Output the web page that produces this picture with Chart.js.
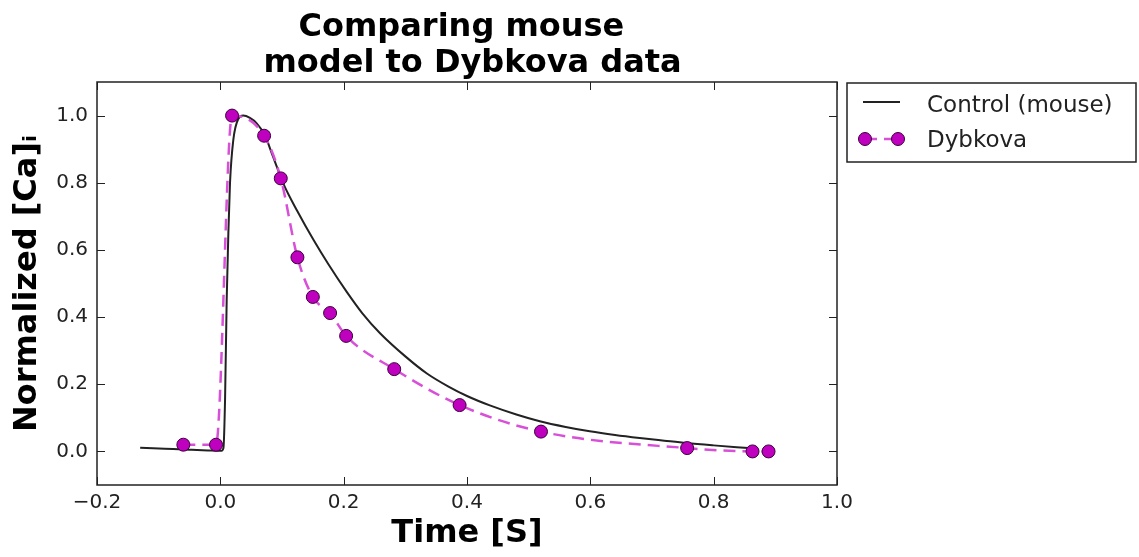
<!DOCTYPE html>
<html>
<head>
<meta charset="utf-8">
<title>Comparing mouse model to Dybkova data</title>
<script src="https://cdn.jsdelivr.net/npm/chart.js@4/dist/chart.umd.min.js"></script>
<style>
    html, body { margin: 0; padding: 0; background: #fff; }
    canvas { display: block; }
</style>
</head>
<body>
<canvas id="caChart" width="1139" height="557"></canvas>
<script>
// model trace
const controlTime = [-0.13, -0.09, -0.05, -0.02, 0.002, 0.005, 0.0076, 0.0103, 0.013, 0.0157, 0.021, 0.029, 0.037, 0.048, 0.059, 0.072, 0.085, 0.102, 0.125, 0.151, 0.175, 0.205, 0.23, 0.259, 0.30, 0.335, 0.37, 0.40, 0.437, 0.48, 0.518, 0.56, 0.599, 0.64, 0.68, 0.72, 0.756, 0.80, 0.856];
const controlCa = [0.011, 0.008, 0.005, 0.003, 0.002, 0.01, 0.15, 0.45, 0.65, 0.80, 0.927, 0.99, 1.0, 0.993, 0.977, 0.942, 0.88, 0.798, 0.715, 0.630, 0.558, 0.475, 0.412, 0.352, 0.283, 0.232, 0.193, 0.165, 0.137, 0.110, 0.090, 0.073, 0.060, 0.049, 0.040, 0.032, 0.025, 0.018, 0.010];

// Dybkova measurements
const dybkovaTime = [-0.06, -0.007, 0.019, 0.071, 0.098, 0.125, 0.150, 0.178, 0.204, 0.282, 0.388, 0.520, 0.757, 0.863, 0.889];
const dybkovaCa = [0.02, 0.02, 1.0, 0.94, 0.813, 0.578, 0.46, 0.412, 0.344, 0.245, 0.138, 0.059, 0.01, 0.0, 0.0];

const xTicks = [-0.2, 0.0, 0.2, 0.4, 0.6, 0.8, 1.0];
const yTicks = [0.0, 0.2, 0.4, 0.6, 0.8, 1.0];

const titleLines = ["Comparing mouse ", " model to Dybkova data"];
const FONT = '"DejaVu Sans", "Liberation Sans", sans-serif';
const INK = "#222";

function fmtTick(v) {
    const s = Math.abs(v).toFixed(1);
    return v < -1e-9 ? "\u2212" + s : s;
}

function toPoints(xs, ys) {
    return xs.map((x, i) => ({ x: x, y: ys[i] }));
}

// matplotlib-ish frame, inward ticks, title and legend
const framePlugin = {
    id: "framePlugin",
    afterDraw(chart) {
        const ctx = chart.ctx;
        const a = chart.chartArea;
        const xs = chart.scales.x;
        const ys = chart.scales.y;
        const tickLen = 8;

        ctx.save();
        ctx.strokeStyle = INK;
        ctx.lineWidth = 1;
        ctx.beginPath();
        xs.ticks.forEach((t) => {
            const px = Math.round(xs.getPixelForValue(t.value)) + 0.5;
            ctx.moveTo(px, a.bottom);
            ctx.lineTo(px, a.bottom - tickLen);
            ctx.moveTo(px, a.top);
            ctx.lineTo(px, a.top + tickLen);
        });
        ys.ticks.forEach((t) => {
            const py = Math.round(ys.getPixelForValue(t.value)) + 0.5;
            ctx.moveTo(a.left, py);
            ctx.lineTo(a.left + tickLen, py);
            ctx.moveTo(a.right, py);
            ctx.lineTo(a.right - tickLen, py);
        });
        ctx.stroke();

        ctx.lineWidth = 1.5;
        ctx.strokeRect(a.left, a.top, a.right - a.left, a.bottom - a.top);

        // title
        const cx = (a.left + a.right) / 2;
        ctx.fillStyle = "#000";
        ctx.font = "bold 32px " + FONT;
        ctx.textAlign = "center";
        ctx.textBaseline = "alphabetic";
        ctx.fillText(titleLines[0], cx, 36);
        ctx.fillText(titleLines[1], cx, 72);

        // legend
        const lx = a.right + 10;
        const ly = a.top + 1;
        const lw = 289;
        const lh = 79;
        ctx.fillStyle = "#fff";
        ctx.fillRect(lx, ly, lw, lh);
        ctx.lineWidth = 1.5;
        ctx.strokeStyle = INK;
        ctx.strokeRect(lx, ly, lw, lh);

        const ctrl = chart.data.datasets[1];
        const dyb = chart.data.datasets[0];

        ctx.strokeStyle = ctrl.borderColor;
        ctx.lineWidth = ctrl.borderWidth;
        ctx.beginPath();
        ctx.moveTo(lx + 16, ly + 19);
        ctx.lineTo(lx + 53, ly + 19);
        ctx.stroke();

        ctx.strokeStyle = dyb.borderColor;
        ctx.lineWidth = dyb.borderWidth;
        ctx.setLineDash(dyb.borderDash);
        ctx.beginPath();
        ctx.moveTo(lx + 18, ly + 56);
        ctx.lineTo(lx + 51, ly + 56);
        ctx.stroke();
        ctx.setLineDash([]);
        [lx + 18, lx + 51].forEach((mx) => {
            ctx.beginPath();
            ctx.arc(mx, ly + 56, dyb.pointRadius, 0, Math.PI * 2);
            ctx.fillStyle = dyb.pointBackgroundColor;
            ctx.fill();
            ctx.lineWidth = dyb.pointBorderWidth;
            ctx.strokeStyle = dyb.pointBorderColor;
            ctx.stroke();
        });

        ctx.fillStyle = INK;
        ctx.font = "23px " + FONT;
        ctx.textAlign = "left";
        ctx.fillText(ctrl.label, lx + 80, ly + 29);
        ctx.fillText(dyb.label, lx + 80, ly + 64);
        ctx.restore();
    },
};

new Chart(document.getElementById("caChart").getContext("2d"), {
    type: "line",
    data: {
        datasets: [
            {
                label: "Dybkova",
                data: toPoints(dybkovaTime, dybkovaCa),
                borderColor: "#d850d8",
                borderWidth: 2.5,
                borderDash: [12, 7],
                cubicInterpolationMode: "monotone",
                pointRadius: 6.5,
                pointBackgroundColor: "#bf00bf",
                pointBorderColor: "#3b003b",
                pointBorderWidth: 1,
                fill: false,
            },
            {
                label: "Control (mouse)",
                data: toPoints(controlTime, controlCa),
                borderColor: INK,
                borderWidth: 2,
                cubicInterpolationMode: "monotone",
                pointRadius: 0,
                fill: false,
            },
        ],
    },
    options: {
        responsive: false,
        animation: false,
        events: [],
        layout: {
            padding: { top: 82, right: 302, bottom: 0, left: 0 },
        },
        plugins: {
            legend: { display: false },
            tooltip: { enabled: false },
            title: { display: false },
        },
        scales: {
            x: {
                type: "linear",
                min: -0.2,
                max: 1.0,
                afterBuildTicks: (s) => {
                    s.ticks = xTicks.map((v) => ({ value: v }));
                },
                afterFit: (s) => {
                    s.height = 72;
                },
                grid: { display: false, drawTicks: false },
                border: { display: false },
                ticks: {
                    callback: (v) => fmtTick(v),
                    color: INK,
                    font: { family: FONT, size: 20 },
                    padding: 6,
                    maxRotation: 0,
                    autoSkip: false,
                },
                title: {
                    display: true,
                    text: "Time [S]",
                    color: "#000",
                    font: { family: FONT, size: 32, weight: "bold" },
                    padding: { top: 0, bottom: 4 },
                },
            },
            y: {
                type: "linear",
                min: -0.1,
                max: 1.1,
                afterBuildTicks: (s) => {
                    s.ticks = yTicks.map((v) => ({ value: v }));
                },
                afterFit: (s) => {
                    s.width = 97;
                },
                grid: { display: false, drawTicks: false },
                border: { display: false },
                ticks: {
                    callback: (v) => fmtTick(v),
                    color: INK,
                    font: { family: FONT, size: 20 },
                    padding: 9,
                },
                title: {
                    display: true,
                    text: "Normalized [Ca]\u1d62",
                    color: "#000",
                    font: { family: FONT, size: 32, weight: "bold" },
                    padding: { top: 8, bottom: 0 },
                },
            },
        },
    },
    plugins: [framePlugin],
});
</script>
</body>
</html>
